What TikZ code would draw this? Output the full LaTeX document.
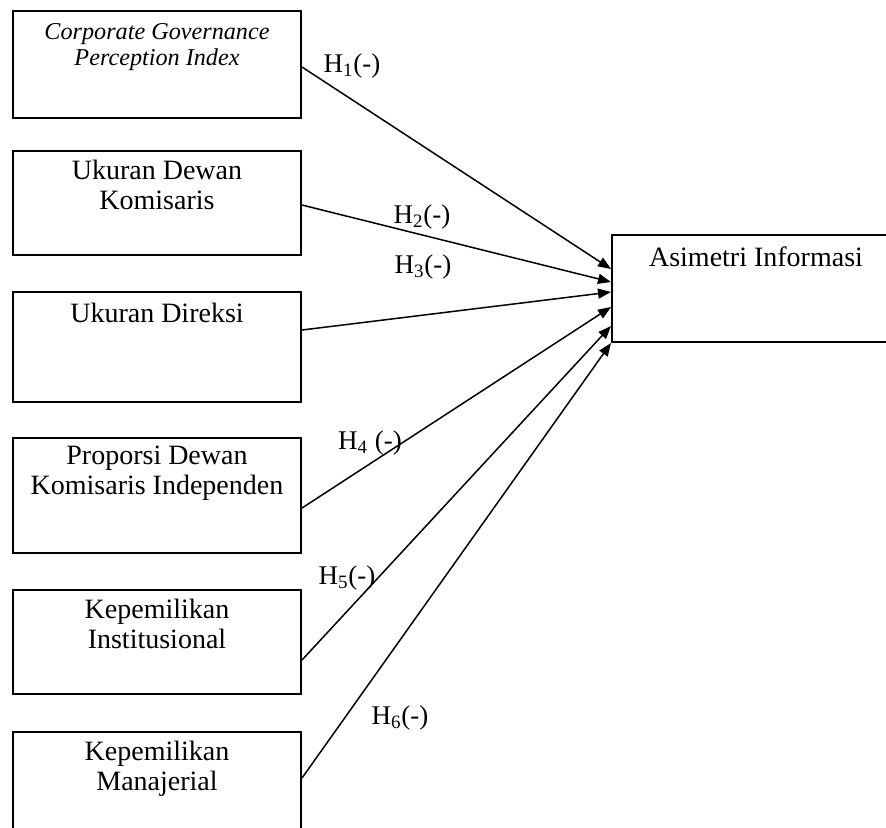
\documentclass[tikz,border=0pt]{standalone}
\usepackage{fontspec}
\setmainfont{Liberation Serif}
\usetikzlibrary{arrows.meta}
\begin{document}
\begin{tikzpicture}[x=0.5pt,y=-0.5pt,
  box/.style={draw, line width=1pt, minimum width=144pt, inner sep=0pt},
  lbl/.style={font=\fontsize{14}{15}\selectfont, align=center, anchor=north, inner sep=0pt},
  hyp/.style={font=\fontsize{13.5}{15}\selectfont, inner sep=0pt},
  conn/.style={line width=0.75pt, -{Triangle[length=6.5pt,width=5pt]}}]
\useasboundingbox (0,0) rectangle (886,827);
% boxes
\node[box, minimum height=53.5pt] (b1) at (157,64.5) {};
\node[box, minimum height=52pt]   (b2) at (157,203) {};
\node[box, minimum height=55pt]   (b3) at (157,347) {};
\node[box, minimum height=57.5pt] (b4) at (157,495.5) {};
\node[box, minimum height=52pt]   (b5) at (157,642) {};
\node[box, minimum height=53.5pt] (b6) at (157,785.5) {};
\node[box, minimum height=53.5pt] (ai) at (756,288.5) {};
% texts
\node[lbl, font=\itshape\fontsize{12.1}{12.8}\selectfont] (t1) at ([yshift=-6.5pt]b1.north) {Corporate Governance\\Perception Index};
\node[lbl] (t2) at ([yshift=-5pt]b2.north) {Ukuran Dewan\\Komisaris};
\node[lbl] (t3) at ([yshift=-6pt]b3.north) {Ukuran Direksi};
\node[lbl] (t4) at ([yshift=-4.5pt]b4.north) {Proporsi Dewan\\Komisaris Independen};
\node[lbl] (t5) at ([yshift=-5pt]b5.north) {Kepemilikan\\Institusional};
\node[lbl] (t6) at ([yshift=-5pt]b6.north) {Kepemilikan\\Manajerial};
\node[lbl] (t7) at ([yshift=-6pt]ai.north) {Asimetri Informasi};
% connectors
\draw[conn] ([yshift=-1.25pt]b1.east) -- ([yshift=9.75pt]ai.west);
\draw[conn] ([yshift=-1pt]b2.east) -- ([yshift=3.25pt]ai.west);
\draw[conn] ([yshift=8.5pt]b3.east) -- ([yshift=-1.75pt]ai.west);
\draw[conn] ([yshift=-6.25pt]b4.east) -- ([yshift=-9.25pt]ai.west);
\draw[conn] ([yshift=-9pt]b5.east) -- ([yshift=-18.75pt]ai.west);
\draw[conn] ([yshift=3.75pt]b6.east) -- ([yshift=-27.25pt]ai.west);
% hypothesis labels
\node[hyp] (h1) at (352,66) {H\textsubscript{1}(-)};
\node[hyp] (h2) at (422,217) {H\textsubscript{2}(-)};
\node[hyp] (h3) at (423,267) {H\textsubscript{3}(-)};
\node[hyp] (h4) at (370,443) {H\textsubscript{4} (-)};
\node[hyp] (h5) at (347,578) {H\textsubscript{5}(-)};
\node[hyp] (h6) at (400,718) {H\textsubscript{6}(-)};
\end{tikzpicture}
\end{document}
